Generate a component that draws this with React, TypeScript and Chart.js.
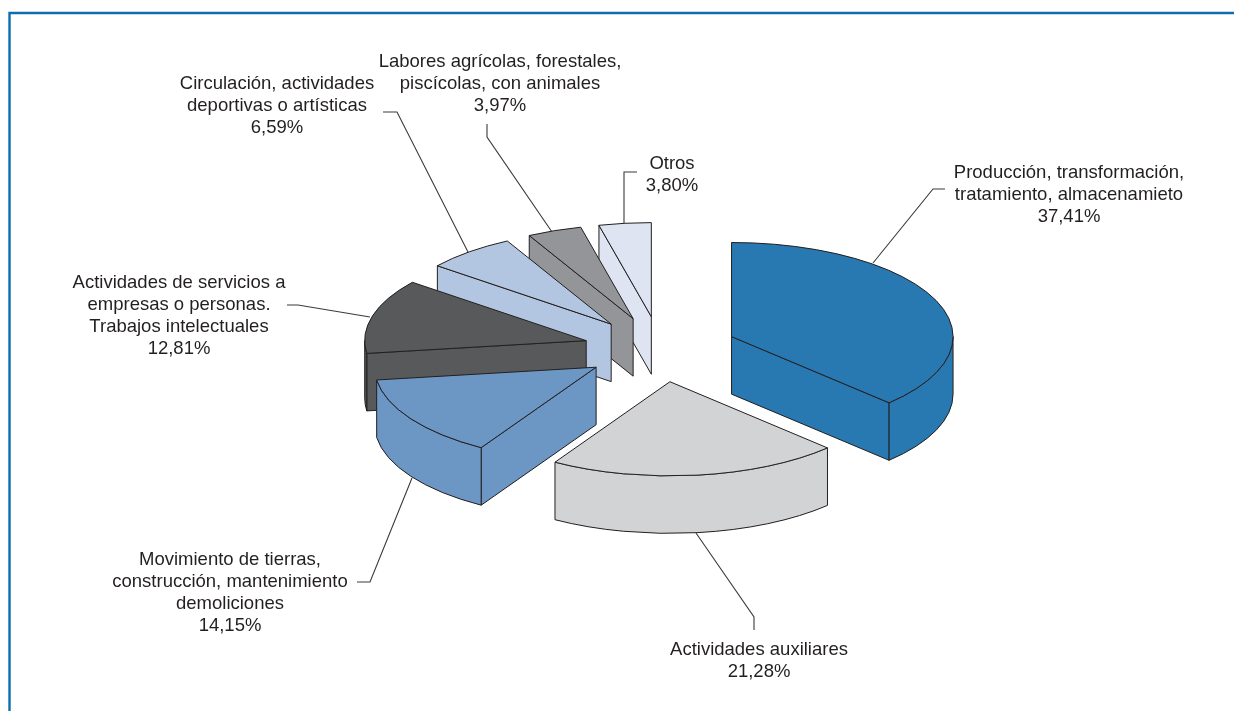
import React, { useEffect, useRef } from "react";
import { Chart, registerables } from "chart.js";

Chart.register(...registerables);

const categories = [
  "Producción, transformación, tratamiento, almacenamieto",
  "Actividades auxiliares",
  "Movimiento de tierras, construcción, mantenimiento demoliciones",
  "Actividades de servicios a empresas o personas. Trabajos intelectuales",
  "Circulación, actividades deportivas o artísticas",
  "Labores agrícolas, forestales, piscícolas, con animales",
  "Otros",
];
const values = [37.41, 21.28, 14.15, 12.81, 6.59, 3.97, 3.8];
const colors = ["#2878B2", "#D1D3D4", "#6C96C4", "#58595B", "#B3C6E1", "#939598", "#DEE4F1"];

const labelLines = [
  ["Producción, transformación,", "tratamiento, almacenamieto", "37,41%"],
  ["Actividades auxiliares", "21,28%"],
  ["Movimiento de tierras,", "construcción, mantenimiento", "demoliciones", "14,15%"],
  ["Actividades de servicios a", "empresas o personas.", "Trabajos intelectuales", "12,81%"],
  ["Circulación, actividades", "deportivas o artísticas", "6,59%"],
  ["Labores agrícolas, forestales,", "piscícolas, con animales", "3,97%"],
  ["Otros", "3,80%"],
];

// Presentation geometry (not data)
const labelAnchors = [
  [1069, 173], [759, 650], [230, 560], [179, 283], [277, 84], [500, 62], [672, 164],
];
const leaders = [
  [[945, 189], [933, 189], [873, 263]],
  [[754, 630], [754, 617], [696, 533]],
  [[357, 582], [370, 582], [412, 478]],
  [[287, 305], [298, 305], [370, 317]],
  [[383, 112], [397, 112], [468, 252]],
  [[487, 124], [487, 137], [552, 232]],
  [[637, 172], [624, 172], [624, 223]],
];
const SQUASH = 0.425;
const EXPLODE = 77;
const DEPTH = 57.5;
const RADIUS = 221.5;
const INK = "#231F20";
const FRAME = "#0F6CB0";
const LINE_HEIGHT = 22;
const FONT = '18.5px "Liberation Sans", Arial, sans-serif';

const pie3d = {
  id: "pie3d",
  beforeDraw(chart: any) {
    const { ctx, width, height } = chart;
    ctx.save();
    ctx.fillStyle = "#fff";
    ctx.fillRect(0, 0, width, height);
    ctx.strokeStyle = FRAME;
    ctx.lineWidth = 2.4;
    ctx.beginPath();
    ctx.moveTo(9.5, height);
    ctx.lineTo(9.5, 13);
    ctx.lineTo(width, 13);
    ctx.stroke();
    ctx.restore();
  },
  beforeDatasetsDraw(chart: any) {
    const { ctx, chartArea } = chart;
    const arcs = chart.getDatasetMeta(0).data;

    ctx.save();
    ctx.strokeStyle = "#3a3a3c";
    ctx.lineWidth = 1.1;
    leaders.forEach((pts) => {
      ctx.beginPath();
      pts.forEach(([x, y], i) => (i ? ctx.lineTo(x, y) : ctx.moveTo(x, y)));
      ctx.stroke();
    });
    ctx.restore();

    for (let i = arcs.length - 1; i >= 0; i--) {
      const arc = arcs[i];
      const a0 = arc.startAngle;
      const a1 = arc.endAngle;
      const mid = (a0 + a1) / 2;
      const r = arc.outerRadius;
      const dx = Math.cos(mid) * EXPLODE;
      const dy = Math.sin(mid) * EXPLODE;
      const sx = arc.x + dx;
      const sy = arc.y + dy * SQUASH;
      const rimX = (a: number) => sx + r * Math.cos(a);
      const rimY = (a: number) => sy + r * SQUASH * Math.sin(a);
      const fill = arc.options.backgroundColor;

      ctx.save();
      ctx.lineWidth = 1;
      ctx.lineJoin = "round";
      ctx.strokeStyle = INK;
      ctx.fillStyle = fill;

      const radialWall = (a: number) => {
        ctx.beginPath();
        ctx.moveTo(sx, sy);
        ctx.lineTo(rimX(a), rimY(a));
        ctx.lineTo(rimX(a), rimY(a) + DEPTH);
        ctx.lineTo(sx, sy + DEPTH);
        ctx.closePath();
        ctx.fill();
        ctx.stroke();
      };
      if (Math.sin(a0 - Math.PI / 2) > 1e-6) radialWall(a0);
      if (Math.sin(a1 + Math.PI / 2) > 1e-6) radialWall(a1);

      const f0 = Math.max(a0, 0);
      const f1 = Math.min(a1, Math.PI);
      if (f1 > f0) {
        ctx.beginPath();
        ctx.ellipse(sx, sy, r, r * SQUASH, 0, f0, f1);
        ctx.lineTo(rimX(f1), rimY(f1) + DEPTH);
        ctx.ellipse(sx, sy + DEPTH, r, r * SQUASH, 0, f1, f0, true);
        ctx.closePath();
        ctx.fill();
        ctx.stroke();
      }

      // Top face: the library's arc element, squashed and exploded.
      ctx.save();
      ctx.translate(sx, sy);
      ctx.scale(1, SQUASH);
      ctx.translate(-arc.x, -arc.y);
      arc.draw(ctx, chartArea);
      ctx.restore();

      ctx.beginPath();
      ctx.moveTo(sx, sy);
      ctx.ellipse(sx, sy, r, r * SQUASH, 0, a0, a1);
      ctx.closePath();
      ctx.stroke();
      ctx.restore();
    }

    ctx.save();
    ctx.font = FONT;
    ctx.fillStyle = INK;
    ctx.textAlign = "center";
    ctx.textBaseline = "middle";
    labelLines.forEach((lines, i) => {
      const [x, y] = labelAnchors[i];
      lines.forEach((t, j) => ctx.fillText(t, x, y + j * LINE_HEIGHT));
    });
    ctx.restore();
    return false;
  },
};

export default function App() {
  const ref = useRef<HTMLCanvasElement | null>(null);
  useEffect(() => {
    const chart = new Chart(ref.current as HTMLCanvasElement, {
      type: "pie",
      data: {
        labels: categories,
        datasets: [{ data: values, backgroundColor: colors, borderWidth: 0 }],
      },
      options: {
        responsive: false,
        animation: false,
        radius: RADIUS,
        layout: { padding: { left: 87, bottom: 12.5 } },
        plugins: { legend: { display: false }, tooltip: { enabled: false } },
      },
      plugins: [pie3d],
    } as any);
    return () => chart.destroy();
  }, []);
  return (
    <div style={{ position: "fixed", left: 0, top: 0, width: 1234, height: 711, background: "#fff" }}>
      <canvas ref={ref} width={1234} height={711} style={{ display: "block" }} />
    </div>
  );
}
